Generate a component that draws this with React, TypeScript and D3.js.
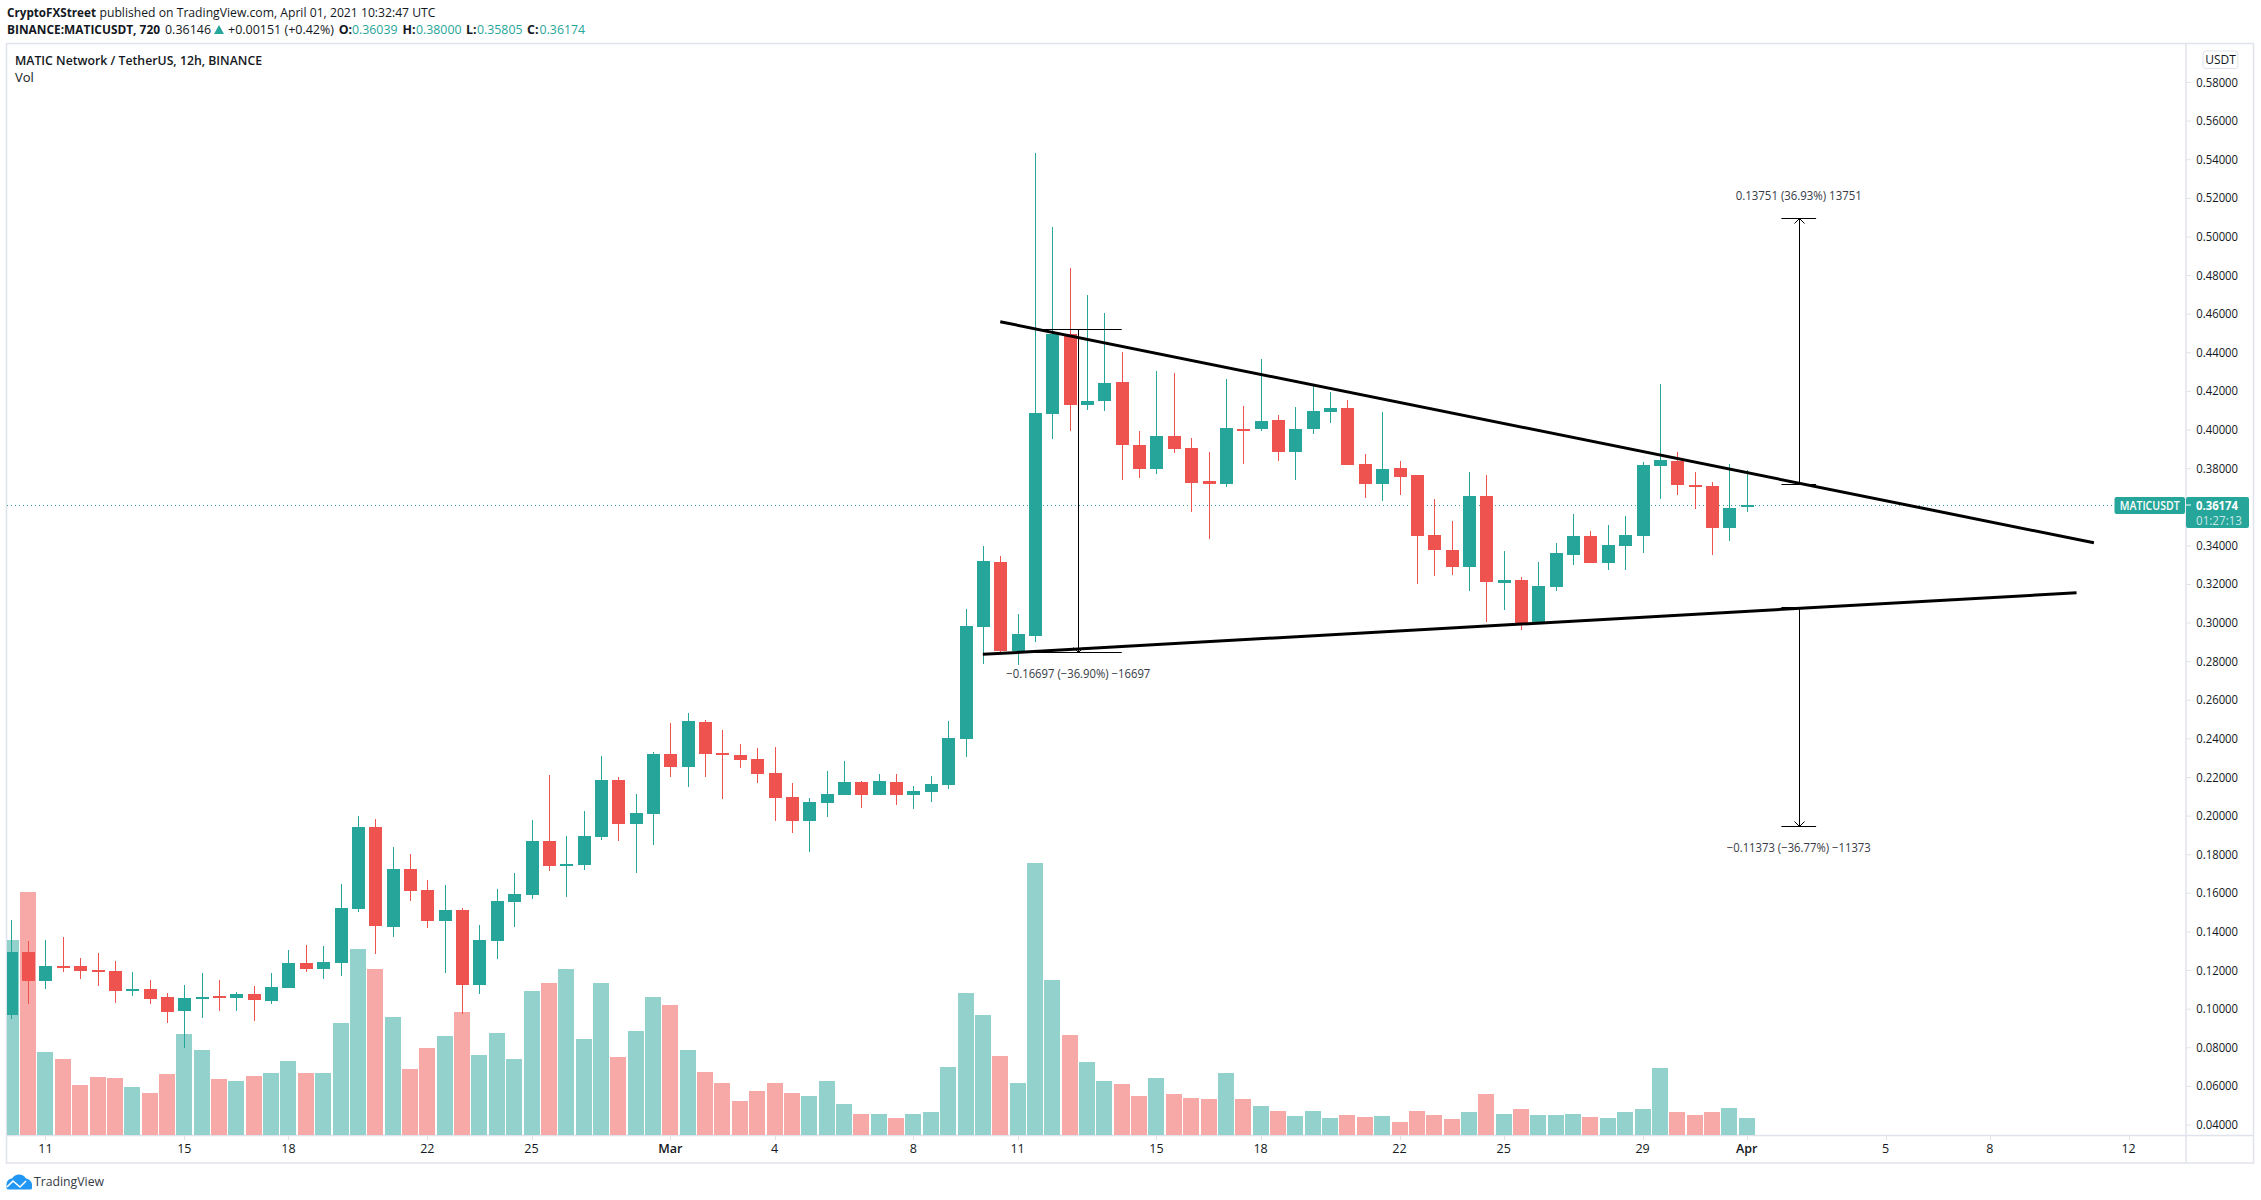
import React from "react";
import * as d3 from "d3";

const W = 2261;
const H = 1200;

const opens = [.0975,.1301,.1151,.1229,.1229,.1208,.1203,.1099,.1109,.1068,.0995,.1063,.1073,.1063,.1083,.1047,.1115,.1244,.1213,.1244,.1524,.1949,.1431,.1731,.1622,.1462,.1519,.1130,.1358,.1560,
.1596,.1875,.1746,.1750,.1897,.2192,.1964,.2016,.2327,.2260,.2492,.2331,.2321,.2299,.2228,.2103,.1978,.2071,.2113,.2180,.2113,.2180,.2113,.2129,.2167,.2404,
.2986,.3320,.2860,.2938,.4088,.4503,.4134,.4155,.4253,.3927,.3803,.3974,.3912,.3740,.3726,.4011,.4011,.4057,.3890,.4011,.4097,.4120,.3829,.3726,.3809,
.3772,.3461,.3383,.3295,.3663,.3212,.3228,.3000,.3192,.3357,.3456,.3316,.3404,.3456,.3818,.3844,.3720,.3715,.3497,.36039];
const closes = [.1301,.1151,.1229,.1223,.1203,.1197,.1099,.1109,.1058,.0990,.1063,.1068,.1063,.1083,.1052,.1120,.1244,.1213,.1249,.1529,.1949,.1436,.1731,.1617,.1462,.1519,.1130,.1363,.1565,.1601,
.1875,.1746,.1756,.1901,.2192,.1964,.2020,.2327,.2260,.2498,.2327,.2321,.2295,.2222,.2099,.1978,.2077,.2119,.2180,.2113,.2186,.2113,.2135,.2170,.2408,.2989,
.3326,.2860,.2949,.4094,.4503,.4134,.4155,.4249,.3927,.3803,.3974,.3907,.3731,.3726,.4016,.4005,.4051,.3890,.4011,.4103,.4120,.3824,.3726,.3803,.3761,
.3456,.3383,.3295,.3663,.3217,.3228,.3000,.3197,.3368,.3456,.3316,.3409,.3461,.3823,.3849,.3720,.3710,.3497,.3601,.36174];
const highs = [.1467,.1358,.1363,.1379,.1270,.1296,.1254,.1197,.1156,.1089,.1130,.1192,.1156,.1094,.1125,.1192,.1311,.1337,.1332,.1653,.2006,.1990,.1845,.1809,.1674,.1648,.1529,.1441,.1627,.1710,
.1984,.2218,.1901,.2032,.2315,.2206,.2119,.2337,.2488,.2539,.2502,.2450,.2379,.2357,.2363,.2176,.2099,.2238,.2289,.2186,.2222,.2222,.2161,.2212,.2498,.3076,
.3404,.3352,.3052,.5441,.5056,.4845,.4704,.4612,.4408,.3999,.4310,.4301,.3964,.3890,.4270,.4129,.4373,.4083,.4123,.4238,.4201,.4160,.3881,.4097,.3844,
.3772,.3647,.3533,.3787,.3772,.3378,.3243,.3321,.3419,.3570,.3482,.3513,.3559,.3839,.4243,.3891,.3787,.3735,.3829,.38];
const lows = [.0954,.1032,.1109,.1197,.1161,.1125,.1037,.1073,.1032,.0933,.0804,.0959,.0995,.0995,.0944,.1032,.1115,.1197,.1161,.1177,.1508,.1291,.1379,.1565,.1425,.1192,.0980,.1083,.1265,.1431,
.1576,.1720,.1586,.1724,.1881,.1875,.1711,.1855,.2206,.2155,.2206,.2093,.2254,.2176,.1978,.1917,.1818,.2000,.2113,.2046,.2113,.2061,.2042,.2077,.2145,.2311,
.2793,.2845,.2788,.2908,.3959,.3999,.4109,.4103,.3746,.3757,.3777,.3887,.3579,.3441,.3709,.3829,.3999,.3844,.3746,.3985,.4042,.3824,.3653,.3637,.3668,
.3207,.3249,.3254,.3171,.3010,.3072,.2969,.3000,.3171,.3305,.3316,.3280,.3280,.3368,.3647,.3668,.3596,.3357,.3430,.35805];
const volumes = [195,243,83,76,50,58,57,48,42,61,101,85,56,54,59,62,74,62,62,112,186,166,118,66,87,99,123,80,102,76,
144,152,166,96,152,78,104,138,130,85,63,52,34,44,52,42,39,54,31,21,21,17,21,23,68,142,120,79,52,272,155,100,73,54,51,39,57,41,37,36,62,36,29,24,19,24,17,20,18,19,13,24,20,16,23,41,21,26,20,20,21,18,17,23,26,67,23,20,23,27,17];

const priceTicks = d3.range(2, 30).map((n) => n * 0.02);
const dateTickIndex = [2, 10, 16, 24, 30, 38, 44, 52, 58, 66, 72, 80, 86, 94, 100, 108, 114, 122];
const dateTickLabels = ["11", "15", "18", "22", "25", "Mar", "4", "8", "11", "15", "18", "22", "25", "29", "Apr", "5", "8", "12"];

const upperTrend: [number, number][] = [[57, 0.4566], [120, 0.3421]];
const lowerTrend: [number, number][] = [[56, 0.2843], [119, 0.3162]];

const lastPrice = 0.36174;
const measures = [
  { idx: 61.5, from: 0.4527, to: 0.2853, cap: 2.5, label: "\u22120.16697 (\u221236.90%) \u221216697", len: 144 },
  { idx: 103, from: 0.3724, to: 0.5102, cap: 1, label: "0.13751 (36.93%) 13751", len: 126 },
  { idx: 103, from: 0.309, to: 0.1954, cap: 1, label: "\u22120.11373 (\u221236.77%) \u221211373", len: 144 },
];

const UP = "#26a69a";
const DOWN = "#ef5350";
const VOL_UP = "#93d2cc";
const VOL_DOWN = "#f7a9a7";
const FRAME = "#e0e3eb";
const INK = "#131722";
const FONT = "'Open Sans', 'Noto Sans', sans-serif";
const HEAD = 12.4;

const plot = { left: 7, right: 2186, top: 44, bottom: 1135 };
const x = d3.scaleLinear().domain([0, 100]).range([10.7, 1746.7]);
const y = d3.scaleLinear().domain([0.58, 0.04]).range([83.5, 1126]);
const v = d3.scaleLinear().domain([0, 300]).range([1135, 835]);
const trend = d3.line<[number, number]>().x((d) => x(d[0])).y((d) => y(d[1]));

function Txt(p: any) {
  const { children, ...rest } = p;
  return (
    <text fontFamily={FONT} fill={INK} fontSize={12} {...rest}>
      {children}
    </text>
  );
}

export default function App() {
  return (
    <svg width={W} height={H} viewBox={`0 0 ${W} ${H}`} style={{ position: "absolute", left: 0, top: 0, display: "block", background: "#fff" }}>
      <defs>
        <clipPath id="plot">
          <rect x={plot.left} y={plot.top} width={plot.right - plot.left} height={plot.bottom - plot.top} />
        </clipPath>
      </defs>

      <g fontWeight={400}>
        <Txt x={7} y={17} fontSize={HEAD} fontWeight={700} textLength={89} lengthAdjust="spacingAndGlyphs">CryptoFXStreet</Txt>
        <Txt x={99.5} y={17} fontSize={HEAD} textLength={336} lengthAdjust="spacingAndGlyphs">published on TradingView.com, April 01, 2021 10:32:47 UTC</Txt>
        <Txt x={7} y={34} fontSize={HEAD} fontWeight={700} textLength={153} lengthAdjust="spacingAndGlyphs">BINANCE:MATICUSDT, 720</Txt>
        <Txt x={165} y={34} fontSize={HEAD} textLength={46} lengthAdjust="spacingAndGlyphs">0.36146</Txt>
        <path d="M214,34 L219,25 L224,34 Z" fill={UP} />
        <Txt x={228} y={34} fontSize={HEAD} textLength={106} lengthAdjust="spacingAndGlyphs">+0.00151 (+0.42%)</Txt>
        {[
          ["O:", 338.7, "0.36039", 352],
          ["H:", 402.6, "0.38000", 416],
          ["L:", 466, "0.35805", 477],
          ["C:", 527, "0.36174", 539.6],
        ].map(([k, kx, val, vx]) => (
          <g key={k as string}>
            <Txt x={kx} y={34} fontSize={HEAD} fontWeight={700}>{k}</Txt>
            <Txt x={vx} y={34} fontSize={HEAD} fill={UP} textLength={45.5} lengthAdjust="spacingAndGlyphs">{val}</Txt>
          </g>
        ))}
      </g>

      <rect x={6.5} y={43.5} width={2247} height={1119.5} fill="none" stroke={FRAME} strokeWidth={1.5} />
      <line x1={2186} x2={2186} y1={44} y2={1163} stroke={FRAME} strokeWidth={1.5} />
      <line x1={7} x2={2254} y1={1135.5} y2={1135.5} stroke={FRAME} strokeWidth={1.5} />

      <Txt x={15} y={65} fontSize={13} fontWeight={600} textLength={247} lengthAdjust="spacingAndGlyphs">MATIC Network / TetherUS, 12h, BINANCE</Txt>
      <Txt x={15} y={82} fontSize={13}>Vol</Txt>

      <g clipPath="url(#plot)">
        <g shapeRendering="crispEdges">
          {volumes.map((d, i) => (
            <rect key={i} x={Math.round(x(i) - 8)} width={16} y={v(d)} height={v(0) - v(d)} fill={closes[i] >= opens[i] ? VOL_UP : VOL_DOWN} />
          ))}
        </g>
        <line x1={plot.left} x2={2114} y1={Math.round(y(lastPrice)) + 0.5} y2={Math.round(y(lastPrice)) + 0.5} stroke={UP} strokeWidth={1} strokeDasharray="1 3" />
        <g shapeRendering="crispEdges">
          {opens.map((o, i) => {
            const c = closes[i];
            const col = c >= o ? UP : DOWN;
            const top = y(Math.max(o, c));
            const bot = y(Math.min(o, c));
            return (
              <g key={i} fill={col}>
                <rect x={Math.round(x(i))} width={1} y={y(highs[i])} height={y(lows[i]) - y(highs[i])} />
                <rect x={Math.round(x(i)) - 6} width={13} y={Math.round(top)} height={Math.max(2, Math.round(bot) - Math.round(top))} />
              </g>
            );
          })}
        </g>
        <path d={trend(upperTrend) as string} fill="none" stroke="#000" strokeWidth={3} />
        <path d={trend(lowerTrend) as string} fill="none" stroke="#000" strokeWidth={3} />

        {measures.map((m, i) => {
          const px = Math.round(x(m.idx)) + 0.5;
          const a = Math.round(y(m.from)) + 0.5;
          const b = Math.round(y(m.to)) + 0.5;
          const dir = b > a ? -1 : 1;
          return (
            <g key={i} stroke="#000" strokeWidth={1} fill="none">
              <line x1={px} x2={px} y1={a} y2={b} />
              <line x1={x(m.idx - m.cap)} x2={x(m.idx + m.cap)} y1={a} y2={a} />
              <line x1={x(m.idx - m.cap)} x2={x(m.idx + m.cap)} y1={b} y2={b} />
              <path d={`M${px - 5},${b + dir * 5} L${px},${b} L${px + 5},${b + dir * 5}`} />
            </g>
          );
        })}
        {measures.map((m, i) => (
          <Txt key={i} x={x(m.idx)} y={y(m.to) + (m.to < m.from ? 26 : -18)} textAnchor="middle" fontSize={12} fill="#363a45" textLength={m.len} lengthAdjust="spacingAndGlyphs">
            {m.label}
          </Txt>
        ))}
      </g>

      {/* price axis */}
      <g>
        {priceTicks.map((p) => (
          <g key={p}>
            <line x1={2186} x2={2191} y1={y(p) - 1} y2={y(p) - 1} stroke={FRAME} />
            <Txt x={2238} y={y(p) + 3} textAnchor="end" fontSize={12.5} textLength={41.7} lengthAdjust="spacingAndGlyphs">
              {p.toFixed(5)}
            </Txt>
          </g>
        ))}
        <rect x={2203} y={51} width={35} height={17.5} rx={3} fill="#fff" stroke={FRAME} />
        <Txt x={2220.5} y={64} textAnchor="middle" fontSize={12}>USDT</Txt>
        <rect x={2114.5} y={497} width={70.5} height={17} rx={2} fill={UP} />
        <Txt x={2149.7} y={510} textAnchor="middle" fontSize={12} fontWeight={600} fill="#fff" textLength={60} lengthAdjust="spacingAndGlyphs">MATICUSDT</Txt>
        <rect x={2186} y={497} width={63} height={31} rx={2} fill={UP} />
        <line x1={2186} x2={2191} y1={505} y2={505} stroke="#fff" />
        <Txt x={2196} y={510} fontSize={12.5} fontWeight={700} fill="#fff" textLength={42} lengthAdjust="spacingAndGlyphs">0.36174</Txt>
        <Txt x={2196} y={525} fontSize={12.5} fill="#fff" fillOpacity={0.75} textLength={46} lengthAdjust="spacingAndGlyphs">01:27:13</Txt>
      </g>

      {/* date axis */}
      <g>
        {dateTickIndex.map((t, i) => (
          <g key={i}>
            <line x1={Math.round(x(t)) + 0.5} x2={Math.round(x(t)) + 0.5} y1={1136} y2={1140} stroke={FRAME} />
            <Txt x={x(t)} y={1153} textAnchor="middle" fontSize={12.5} fontWeight={dateTickLabels[i] === "Mar" || dateTickLabels[i] === "Apr" ? 600 : 400}>
              {dateTickLabels[i]}
            </Txt>
          </g>
        ))}
      </g>

      {/* logo */}
      <g>
        <path d="M6.5,1188 L6.5,1184 Q7,1179 12,1178.5 Q15,1174 20,1174.5 Q24,1175 26,1178.5 Q31,1179.5 32,1184 L32,1188 Q32,1189.5 30,1189.5 L9,1189.5 Q6.5,1189.5 6.5,1188 Z" fill="#2196f3" />
        <path d="M7,1187 L13,1181 L20,1187 L26,1181" fill="none" stroke="#fff" strokeWidth={1.6} />
        <Txt x={34} y={1186} fontSize={13} fill="#363a45" textLength={70} lengthAdjust="spacingAndGlyphs">TradingView</Txt>
      </g>
    </svg>
  );
}
